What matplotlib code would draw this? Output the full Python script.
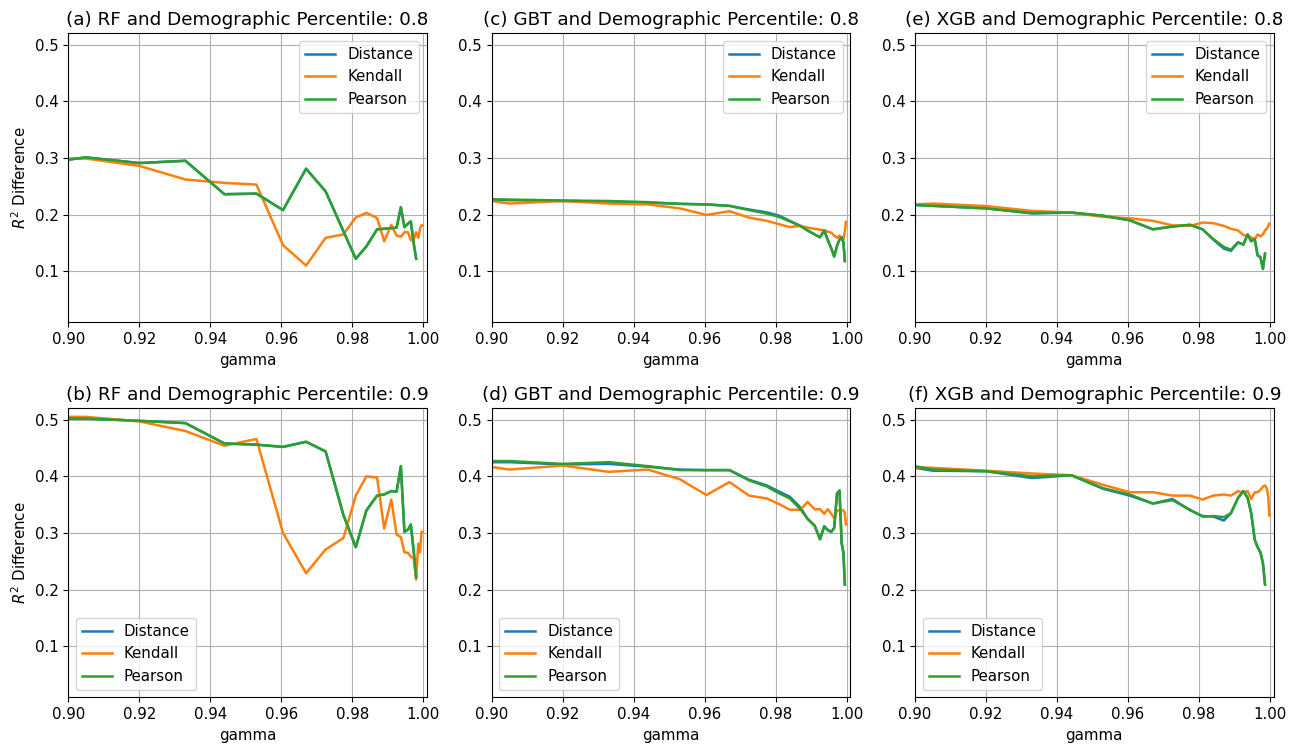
import numpy as np
import matplotlib
matplotlib.use("Agg")
import matplotlib.pyplot as plt

nan = np.nan

# shared gamma grid
gamma = [0.900, 0.905, 0.920, 0.933, 0.944, 0.953, 0.9605, 0.967, 0.9725, 0.9775,
         0.981, 0.984, 0.987, 0.989, 0.991, 0.9925, 0.9937, 0.9947, 0.9957, 0.9965,
         0.9973, 0.998, 0.9986, 0.9991, 0.9995, 0.9998]

# (a) RF, percentile 0.8
rf8_kendall = [0.299, 0.299, 0.286, 0.262, 0.256, 0.253, 0.146, 0.110, 0.159, 0.165,
               0.195, 0.203, 0.194, 0.153, 0.182, 0.163, 0.161, 0.169, 0.169, 0.155,
               0.155, 0.169, 0.159, 0.175, 0.181, 0.181]
rf8_pearson = [0.297, 0.301, 0.291, 0.295, 0.236, 0.237, 0.208, 0.281, 0.241, 0.171,
               0.122, 0.144, 0.174, 0.175, 0.176, 0.177, 0.213, 0.178, 0.184, 0.188,
               0.150, 0.122, nan, nan, nan, nan]
rf8_distance = list(rf8_pearson)

# (b) RF, percentile 0.9
rf9_kendall = [0.505, 0.505, 0.497, 0.480, 0.454, 0.466, 0.300, 0.229, 0.271, 0.291,
               0.366, 0.400, 0.398, 0.308, 0.359, 0.297, 0.293, 0.266, 0.265, 0.258,
               0.256, 0.218, 0.281, 0.266, 0.302, 0.302]
rf9_pearson = [0.502, 0.502, 0.498, 0.494, 0.458, 0.456, 0.452, 0.461, 0.444, 0.332,
               0.275, 0.340, 0.366, 0.368, 0.374, 0.373, 0.418, 0.302, 0.306, 0.315,
               0.269, 0.222, nan, nan, nan, nan]
rf9_distance = list(rf9_pearson)

# (c) GBT, percentile 0.8
gbt8_kendall = [0.224, 0.2195, 0.224, 0.2195, 0.218, 0.211, 0.1994, 0.206, 0.1947, 0.189,
                0.183, 0.178, 0.180, 0.177, 0.175, 0.1734, 0.172, 0.170, 0.168, 0.163,
                0.159, 0.163, 0.156, 0.156, 0.170, 0.187]
gbt8_pearson = [0.227, 0.2265, 0.225, 0.224, 0.222, 0.219, 0.218, 0.2154, 0.208, 0.2018,
                0.196, 0.188, 0.180, 0.172, 0.165, 0.160, 0.172, 0.155, 0.140, 0.126,
                0.145, 0.156, 0.160, 0.151, 0.118, nan]
gbt8_distance = [0.226, 0.2255, 0.224, 0.223, 0.221, 0.219, 0.218, 0.2154, 0.209, 0.204,
                 0.198, 0.189, 0.180, 0.172, 0.165, 0.160, 0.172, 0.155, 0.140, 0.126,
                 0.145, 0.156, 0.160, 0.151, 0.118, nan]

# (d) GBT, percentile 0.9
gbt9_kendall = [0.4165, 0.412, 0.419, 0.408, 0.412, 0.395, 0.367, 0.390, 0.366, 0.361,
                0.351, 0.341, 0.341, 0.355, 0.342, 0.342, 0.334, 0.342, 0.334, 0.326,
                0.340, 0.340, 0.340, 0.340, 0.335, 0.315]
gbt9_pearson = [0.427, 0.427, 0.422, 0.425, 0.418, 0.411, 0.411, 0.411, 0.393, 0.382,
                0.370, 0.361, 0.342, 0.325, 0.313, 0.289, 0.312, 0.305, 0.302, 0.309,
                0.370, 0.375, 0.282, 0.265, 0.209, nan]
gbt9_distance = [0.425, 0.425, 0.421, 0.422, 0.417, 0.412, 0.411, 0.411, 0.394, 0.384,
                 0.373, 0.364, 0.345, 0.325, 0.313, 0.289, 0.312, 0.305, 0.302, 0.309,
                 0.370, 0.375, 0.282, 0.265, 0.209, nan]

# (e) XGB, percentile 0.8
xgb8_kendall = [0.218, 0.2195, 0.215, 0.2065, 0.2036, 0.196, 0.1935, 0.189, 0.181, 0.180,
                0.186, 0.185, 0.180, 0.175, 0.172, 0.164, 0.162, 0.160, 0.156, 0.165,
                0.1615, 0.165, 0.172, 0.175, 0.180, 0.184]
xgb8_pearson = [0.217, 0.2155, 0.211, 0.203, 0.2036, 0.198, 0.190, 0.174, 0.179, 0.182,
                0.174, 0.157, 0.143, 0.138, 0.151, 0.147, 0.165, 0.153, 0.157, 0.128,
                0.125, 0.104, 0.131, nan, nan, nan]
xgb8_distance = [0.217, 0.2155, 0.211, 0.202, 0.2036, 0.198, 0.190, 0.174, 0.179, 0.182,
                 0.174, 0.156, 0.140, 0.136, 0.151, 0.147, 0.165, 0.153, 0.157, 0.128,
                 0.125, 0.104, 0.131, nan, nan, nan]

# (f) XGB, percentile 0.9
xgb9_kendall = [0.416, 0.415, 0.410, 0.405, 0.402, 0.385, 0.372, 0.372, 0.366, 0.366,
                0.359, 0.366, 0.368, 0.366, 0.374, 0.371, 0.374, 0.360, 0.372, 0.372,
                0.376, 0.382, 0.384, 0.379, 0.365, 0.331]
xgb9_pearson = [0.418, 0.412, 0.409, 0.400, 0.402, 0.379, 0.368, 0.352, 0.358, 0.341,
                0.329, 0.330, 0.328, 0.335, 0.362, 0.374, 0.362, 0.335, 0.288, 0.275,
                0.266, 0.247, 0.209, nan, nan, nan]
xgb9_distance = [0.415, 0.410, 0.409, 0.397, 0.402, 0.378, 0.366, 0.352, 0.360, 0.340,
                 0.330, 0.329, 0.322, 0.335, 0.362, 0.374, 0.362, 0.335, 0.288, 0.275,
                 0.266, 0.247, 0.209, nan, nan, nan]

panels = [
    ("(a) RF and Demographic Percentile: 0.8", rf8_distance, rf8_kendall, rf8_pearson),
    ("(c) GBT and Demographic Percentile: 0.8", gbt8_distance, gbt8_kendall, gbt8_pearson),
    ("(e) XGB and Demographic Percentile: 0.8", xgb8_distance, xgb8_kendall, xgb8_pearson),
    ("(b) RF and Demographic Percentile: 0.9", rf9_distance, rf9_kendall, rf9_pearson),
    ("(d) GBT and Demographic Percentile: 0.9", gbt9_distance, gbt9_kendall, gbt9_pearson),
    ("(f) XGB and Demographic Percentile: 0.9", xgb9_distance, xgb9_kendall, xgb9_pearson),
]

plt.rcParams['font.size'] = 10.8

fig, axes = plt.subplots(2, 3, figsize=(13.03, 7.45), dpi=100)
fig.subplots_adjust(left=0.0524, right=0.9774, top=0.9553, bottom=0.064,
                    wspace=0.181, hspace=0.298)

for i, (title, dist, kend, pear) in enumerate(panels):
    ax = axes.flat[i]
    ax.plot(gamma, dist, color='tab:blue', lw=1.8, label='Distance')
    ax.plot(gamma, kend, color='tab:orange', lw=1.8, label='Kendall')
    ax.plot(gamma, pear, color='tab:green', lw=1.8, label='Pearson')
    ax.set_title(title, fontsize=13.2)
    ax.set_xlabel("gamma")
    ax.set_xlim(0.9, 1.001)
    ax.set_ylim(0.01, 0.52)
    ax.set_xticks(np.arange(0.90, 1.001, 0.02))
    ax.set_yticks([0.1, 0.2, 0.3, 0.4, 0.5])
    ax.grid(True)
    if i % 3 == 0:
        ax.set_ylabel("$R^2$ Difference")
    if i < 3:
        ax.legend(loc='upper right')
    else:
        ax.legend(loc='lower left')

plt.savefig("out.png")
